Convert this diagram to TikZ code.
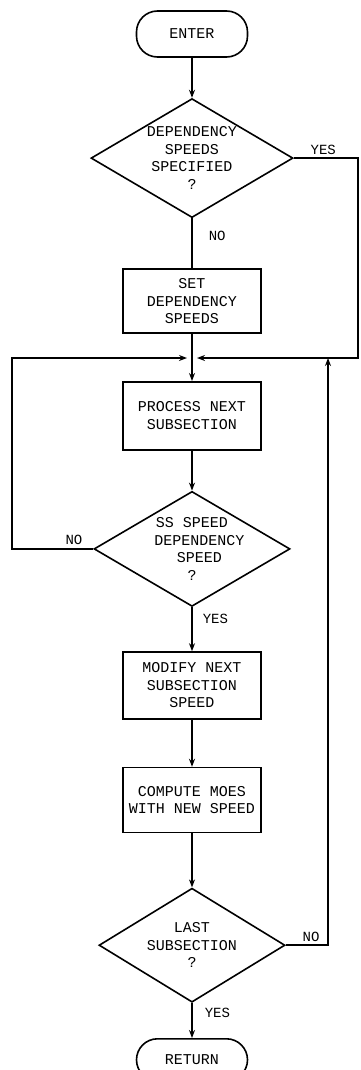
\documentclass[tikz,border=0pt]{standalone}
\usepackage{fontspec}
\setmonofont{Liberation Mono}
\usetikzlibrary{shapes, arrows.meta, positioning}

\begin{document}
\begin{tikzpicture}[
    x=1pt, y=1pt,
    font=\ttfamily\fontsize{15}{17.5}\selectfont,
    line width=1.6pt,
    terminal/.style={draw, rounded corners=21pt, minimum width=111pt, minimum height=46pt, align=center},
    process/.style={draw, minimum width=138pt, minimum height=66pt, align=center, inner sep=2pt},
    decision/.style={draw, diamond, aspect=1.7, inner sep=-10pt, align=center},
    arrow/.style={-{Stealth[length=8pt, width=6pt]}},
    answer/.style={font=\ttfamily\fontsize{14}{16}\selectfont, inner sep=0pt}
]
    \useasboundingbox (0,0) rectangle (360,-1070);

    % Blocks
    \node[terminal] (enter) at (192,-34) {ENTER};
    \node[decision, minimum width=202pt, minimum height=119pt, below=40pt of enter] (specified) {DEPENDENCY\\SPEEDS\\SPECIFIED\\?};
    \node[process, minimum height=64pt, below=50pt of specified] (setspeeds) {SET\\DEPENDENCY\\SPEEDS};
    \coordinate[below=24pt of setspeeds] (merge);
    \node[process, minimum height=68pt, below=47pt of setspeeds] (nextss) {PROCESS NEXT\\SUBSECTION};
    \node[decision, minimum width=196pt, minimum height=115pt, below=40pt of nextss] (ssdep) {SS SPEED\hspace{2em}\\\hspace{1em}DEPENDENCY\\\hspace{1em}SPEED\\?};
    \node[process, minimum height=67pt, below=44pt of ssdep] (modify) {MODIFY NEXT\\SUBSECTION\\SPEED};
    \node[process, minimum height=65pt, below=47pt of modify] (compute) {COMPUTE MOES\\WITH NEW SPEED};
    \node[decision, minimum width=186pt, minimum height=114pt, below=54pt of compute] (lastss) {LAST\\SUBSECTION\\?};
    \node[terminal, minimum height=42pt, below=35pt of lastss] (return) {RETURN};

    % Loop edges
    \coordinate (leftedge) at (12,0);
    \coordinate (rightedge) at (358,0);
    \coordinate (backedge) at (328,0);

    % Connections (main flow)
    \draw[arrow] (enter) -- (specified);
    \draw (specified) -- (setspeeds);
    \draw (setspeeds) -- (merge);
    \draw[arrow] (merge) -- (nextss);
    \draw[arrow] (nextss) -- (ssdep);
    \draw[arrow] (ssdep) -- (modify);
    \draw[arrow] (modify) -- (compute);
    \draw[arrow] (compute) -- (lastss);
    \draw[arrow] (lastss) -- (return);

    % Connections (loops)
    \draw[arrow, shorten >=5pt] (specified.east) -- (specified.east -| rightedge) -- (merge -| rightedge) -- (merge);
    \draw[arrow, shorten >=5pt] (ssdep.west) -- (ssdep.west -| leftedge) -- (merge -| leftedge) -- (merge);
    \draw[arrow] (lastss.east) -- (lastss.east -| backedge) -- (merge -| backedge);

    % Answers
    \node[answer, above right=3pt and 16pt of specified.east] {YES};
    \node[answer, below right=12pt and 16pt of specified.south] {NO};
    \node[answer, above left=3pt and 10pt of ssdep.west] {NO};
    \node[answer, below right=6pt and 10pt of ssdep.south] {YES};
    \node[answer, above right=3pt and 16pt of lastss.east] {NO};
    \node[answer, below right=4pt and 12pt of lastss.south] {YES};

\end{tikzpicture}
\end{document}
